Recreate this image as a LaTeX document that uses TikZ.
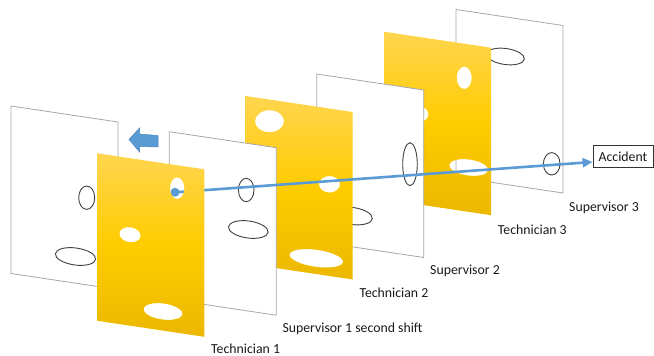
\documentclass[tikz,border=0pt]{standalone}
\usepackage{fontspec}
\setmainfont{Carlito}
\usetikzlibrary{arrows.meta}

\definecolor{officeblue}{HTML}{5B9BD5}
\definecolor{arrowrim}{HTML}{4A89C4}
\definecolor{framegray}{HTML}{A6A6A6}
\definecolor{rimgray}{HTML}{404040}
\definecolor{goldtop}{HTML}{FFD54F}
\definecolor{goldmid}{HTML}{FFCC00}
\definecolor{goldbot}{HTML}{EBB800}

% one slice of cheese: a sheet seen in perspective
\newcommand\sheet[2]{(#1,#2) -- ++(107,16) -- ++(0,167.5) -- ++(-107,-16) -- cycle}

\tikzset{
  whitepanel/.style={fill=white, draw=framegray, line width=0.8pt},
  goldpanel/.style={even odd rule, top color=goldtop, bottom color=goldbot, middle color=goldmid},
  holerim/.style={draw=rimgray, line width=0.9pt},
  blueline/.style={draw=officeblue, line width=2.6pt, -{Triangle[length=10pt,width=9pt]}},
  bluedot/.style={circle, fill=officeblue, inner sep=0pt, minimum size=9pt},
  lbl/.style={anchor=base west, inner sep=0pt, font=\fontsize{13.8}{16}\selectfont, text=black!90},
  accbox/.style={draw=black!80, line width=0.8pt, fill=white, minimum width=60pt, minimum height=22pt,
                 inner sep=0pt, font=\fontsize{13.8}{16}\selectfont, text=black!90},
}

\begin{document}
\begin{tikzpicture}[x=1pt, y=-1pt]
\useasboundingbox (0,0) rectangle (654,356);

% back row, left: the first white slice
\path[whitepanel] \sheet{11}{106};
\path[holerim] (86.7,197.7) ellipse [x radius=8, y radius=11.7]
               (75.5,256.5) ellipse [x radius=20.3, y radius=8.5, rotate=-8];

% Supervisor 3
\path[whitepanel] \sheet{456}{9.5};
\path[holerim] (505.5,56.5) ellipse [x radius=19, y radius=8, rotate=-8]
               (551.7,163.8) ellipse [x radius=8.3, y radius=11.2];

% Technician 3
\shade[goldpanel] \sheet{384}{31.7}
   (464.2,77.8) ellipse [x radius=7.5, y radius=11.2]
   (468.7,167.5) ellipse [x radius=19.7, y radius=8, rotate=-8]
   (420,114.2) ellipse [x radius=8.5, y radius=7.5];

% Supervisor 2
\path[whitepanel] \sheet{316.7}{74};
\path[holerim] (410,164.2) ellipse [x radius=7.3, y radius=21.5]
               (352.5,216) ellipse [x radius=20, y radius=8.5, rotate=-8];

% Technician 2
\shade[goldpanel] \sheet{245.7}{96}
   (269.5,121.2) ellipse [x radius=14.5, y radius=11]
   (329.5,184.3) ellipse [x radius=10.5, y radius=8.3]
   (316.3,258.3) ellipse [x radius=27, y radius=8.5, rotate=-8];

% Supervisor 1 second shift
\path[whitepanel] \sheet{169.3}{131.7};
\path[holerim] (246.2,190) ellipse [x radius=7.8, y radius=11.7]
               (248.3,229.5) ellipse [x radius=20, y radius=8.5, rotate=-8];

% direction of the defences
\filldraw[fill=officeblue, draw=arrowrim, line width=0.5pt]
  (129,139.5) -- (139.5,128) -- (139.5,134) -- (158,135.5) -- (158,147)
  -- (139.5,146.5) -- (139.5,152) -- cycle;

% trajectory of the hazard
\node[bluedot] (dot) at (175,192.3) {};
\node[accbox] (acc) at (623,156.3) {Accident};
\draw[blueline] (dot.center) -- ([yshift=-5.7pt]acc.west);

% Technician 1, in front
\shade[goldpanel] \sheet{97.3}{153.3}
   (177.2,188.2) ellipse [x radius=7.2, y radius=10.8]
   (130,234.7) ellipse [x radius=10.7, y radius=7.5, rotate=-10]
   (163,311.5) ellipse [x radius=19.7, y radius=8, rotate=-8];

% labels
\node[lbl] (t1) at (211,353.5) {Technician 1};
\node[lbl] (s1) at (282.3,332.2) {Supervisor 1 second shift};
\node[lbl] (t2) at (359.3,297.2) {Technician 2};
\node[lbl] (s2) at (430,274.5) {Supervisor 2};
\node[lbl] (t3) at (497.7,234.5) {Technician 3};
\node[lbl] (s3) at (569,211.2) {Supervisor 3};
\end{tikzpicture}
\end{document}
